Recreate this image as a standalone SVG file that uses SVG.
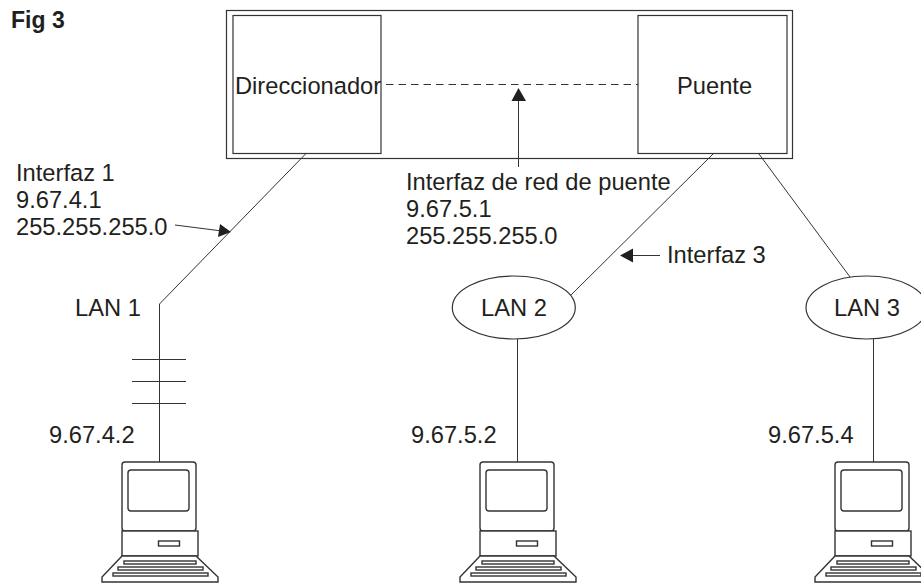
<svg xmlns="http://www.w3.org/2000/svg" width="921" height="583" viewBox="0 0 921 583">
<style>
text{font-family:"Liberation Sans",Arial,sans-serif;font-size:23.7px;fill:#231f20}
.b{fill:none;stroke:#333;stroke-width:1.2}
.l{fill:none;stroke:#333;stroke-width:1}
.p{fill:#fff;stroke:#333;stroke-width:1.4}
.a{fill:#231f20;stroke:none}
</style>
<defs>
<g id="pc">
<rect class="p" x="122" y="462" width="74" height="69" rx="3"/>
<rect class="p" x="128" y="470" width="61" height="41" rx="3"/>
<rect class="p" x="122" y="531" width="76" height="25"/>
<rect class="p" x="158.500" y="541" width="21" height="5"/>
<path class="p" d="M122 556H196L218 577V582H102V577Z"/>
<rect class="p" x="124" y="561" width="72" height="3"/>
<rect class="p" x="118" y="567" width="85" height="3"/>
<rect class="p" x="113" y="573" width="95" height="3"/>
</g>
</defs>
<rect width="921" height="583" fill="#fff"/>
<text x="11" y="28" style="font-weight:700;font-size:23px">Fig 3</text>
<g id="connectors">
<path class="l" d="M305.500 154L159.500 304V462"/>
<path class="l" d="M132 359.500H186M132 381.500H186M132 403.500H186"/>
<path class="l" d="M386 84.500H638" stroke-dasharray="7.500 5"/>
<path class="l" d="M518.500 167V98"/>
<path class="a" d="M518.500 88L526 101H511.500Z"/>
<path class="l" d="M175 225L222 231"/>
<path class="a" d="M231 232L218 237L220 224Z"/>
<path class="l" d="M713 154L571 295"/>
<path class="l" d="M759 154L850 277"/>
<path class="l" d="M660 255.500H630"/>
<path class="a" d="M620 255.500L633 248.500V262.500Z"/>
<path class="l" d="M517.500 339V462M873.500 339V462"/>
</g>
<g id="bridge-device"><rect class="b" x="226.500" y="10.500" width="566" height="148"/></g>
<g id="router"><rect class="b" x="233" y="15.500" width="148" height="138"/><text x="235" y="94">Direccionador</text></g>
<g id="bridge"><rect class="b" x="638" y="15.500" width="149" height="138"/><text x="677" y="94">Puente</text></g>
<g id="label-if1"><text x="16" y="181">Interfaz 1</text><text x="16" y="208">9.67.4.1</text><text x="16" y="235">255.255.255.0</text></g>
<g id="label-bridge-if"><text x="406" y="190">Interfaz de red de puente</text><text x="406" y="217">9.67.5.1</text><text x="406" y="244">255.255.255.0</text></g>
<g id="label-if3"><text x="667" y="263">Interfaz 3</text></g>
<g id="lan1"><text x="75" y="316">LAN 1</text></g>
<g id="lan2"><ellipse class="b" cx="513.800" cy="307.500" rx="61.500" ry="31.500"/><text x="481" y="316">LAN 2</text></g>
<g id="lan3"><ellipse class="b" cx="866.500" cy="307.500" rx="60.500" ry="31.500"/><text x="834" y="316">LAN 3</text></g>
<g id="pc1"><text x="49" y="443">9.67.4.2</text><use href="#pc"/></g>
<g id="pc2"><text x="411" y="443">9.67.5.2</text><use href="#pc" x="358"/></g>
<g id="pc3"><text x="768" y="443">9.67.5.4</text><use href="#pc" x="713"/></g>
</svg>
